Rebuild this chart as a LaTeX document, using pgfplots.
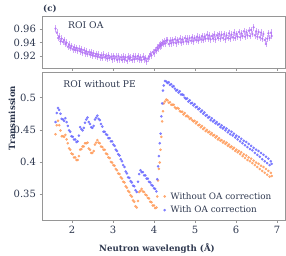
\documentclass[border=0pt]{standalone}
\usepackage{fontspec}
\setmainfont{DejaVu Serif}
\usepackage{pgfplots}
\pgfplotsset{compat=1.18}
\usepackage{pgfplotstable}
\definecolor{oacol}{RGB}{176,110,244}
\definecolor{wocol}{RGB}{255,155,90}
\definecolor{wicol}{RGB}{105,105,255}
\definecolor{txt}{RGB}{45,55,78}
\definecolor{framec}{RGB}{150,150,150}
\pgfplotstableread{
x oa wo wi
1.60 0.961 0.443 0.462
1.63 0.955 0.457 0.476
1.66 0.947 0.464 0.484
1.69 0.949 0.457 0.481
1.72 0.942 0.449 0.475
1.75 0.946 0.440 0.467
1.78 0.941 0.440 0.466
1.81 0.944 0.439 0.464
1.84 0.938 0.442 0.468
1.87 0.940 0.435 0.462
1.90 0.934 0.429 0.456
1.93 0.937 0.421 0.449
1.96 0.932 0.419 0.447
1.99 0.935 0.413 0.440
2.02 0.930 0.412 0.439
2.05 0.933 0.407 0.435
2.08 0.929 0.407 0.435
2.11 0.932 0.403 0.431
2.14 0.928 0.403 0.432
2.17 0.931 0.409 0.441
2.20 0.927 0.419 0.454
2.23 0.930 0.420 0.451
2.26 0.925 0.424 0.449
2.29 0.929 0.424 0.453
2.32 0.924 0.429 0.461
2.35 0.927 0.429 0.466
2.38 0.923 0.430 0.469
2.41 0.926 0.421 0.462
2.44 0.922 0.419 0.459
2.47 0.925 0.414 0.454
2.50 0.921 0.414 0.453
2.53 0.924 0.417 0.456
2.56 0.920 0.427 0.466
2.59 0.923 0.430 0.469
2.62 0.919 0.434 0.472
2.65 0.922 0.430 0.467
2.68 0.918 0.429 0.465
2.71 0.921 0.424 0.459
2.74 0.917 0.423 0.455
2.77 0.922 0.419 0.447
2.80 0.918 0.419 0.447
2.83 0.920 0.413 0.443
2.86 0.916 0.412 0.442
2.89 0.921 0.407 0.437
2.92 0.917 0.406 0.437
2.95 0.919 0.400 0.432
2.98 0.915 0.399 0.432
3.01 0.920 0.395 0.427
3.04 0.916 0.394 0.425
3.07 0.919 0.389 0.419
3.10 0.914 0.387 0.417
3.13 0.920 0.382 0.412
3.16 0.915 0.381 0.410
3.19 0.918 0.376 0.404
3.22 0.914 0.374 0.401
3.25 0.919 0.369 0.395
3.28 0.915 0.368 0.392
3.31 0.918 0.362 0.385
3.34 0.913 0.360 0.382
3.37 0.919 0.355 0.376
3.40 0.916 0.353 0.375
3.43 0.918 0.348 0.370
3.46 0.914 0.346 0.368
3.49 0.920 0.340 0.363
3.52 0.915 0.338 0.362
3.55 0.919 0.331 0.356
3.58 0.916 0.329 0.353
3.61 0.920 0.339 0.369
3.64 0.915 0.353 0.381
3.67 0.918 0.355 0.387
3.70 0.914 0.358 0.384
3.73 0.919 0.354 0.384
3.76 0.915 0.353 0.379
3.79 0.917 0.349 0.379
3.82 0.912 0.348 0.374
3.85 0.916 0.344 0.374
3.88 0.919 0.343 0.369
3.91 0.923 0.338 0.368
3.94 0.921 0.337 0.364
3.97 0.926 0.332 0.363
4.00 0.924 0.332 0.359
4.03 0.929 0.328 0.358
4.06 0.928 0.329 0.354
4.08 0.933 0.346 0.373
4.10 0.931 0.371 0.393
4.12 0.936 0.389 0.409
4.14 0.934 0.399 0.429
4.16 0.938 0.419 0.444
4.18 0.936 0.439 0.471
4.20 0.940 0.463 0.491
4.22 0.938 0.479 0.511
4.24 0.942 0.491 0.519
4.27 0.939 0.494 0.526
4.30 0.943 0.497 0.525
4.33 0.944 0.496 0.523
4.36 0.938 0.492 0.524
4.39 0.943 0.493 0.520
4.42 0.939 0.489 0.521
4.45 0.944 0.489 0.517
4.48 0.940 0.489 0.518
4.51 0.945 0.485 0.514
4.54 0.939 0.483 0.511
4.57 0.944 0.484 0.512
4.60 0.941 0.483 0.508
4.63 0.946 0.479 0.510
4.66 0.940 0.478 0.505
4.69 0.945 0.478 0.505
4.72 0.941 0.474 0.504
4.75 0.947 0.476 0.500
4.78 0.942 0.471 0.498
4.81 0.946 0.472 0.499
4.84 0.941 0.470 0.494
4.87 0.947 0.467 0.496
4.90 0.943 0.468 0.491
4.93 0.948 0.465 0.492
4.96 0.942 0.463 0.488
4.99 0.947 0.464 0.490
5.02 0.944 0.460 0.485
5.05 0.949 0.462 0.486
5.08 0.943 0.457 0.482
5.11 0.948 0.458 0.483
5.14 0.945 0.454 0.478
5.17 0.950 0.456 0.480
5.20 0.944 0.451 0.475
5.23 0.949 0.453 0.477
5.26 0.946 0.448 0.472
5.29 0.952 0.450 0.473
5.32 0.946 0.446 0.469
5.35 0.951 0.447 0.470
5.38 0.945 0.443 0.465
5.41 0.950 0.445 0.468
5.44 0.946 0.441 0.463
5.47 0.952 0.442 0.465
5.50 0.945 0.438 0.460
5.53 0.951 0.440 0.462
5.56 0.947 0.435 0.458
5.59 0.953 0.437 0.459
5.62 0.946 0.433 0.454
5.65 0.952 0.434 0.457
5.68 0.947 0.430 0.452
5.71 0.953 0.432 0.454
5.74 0.945 0.428 0.449
5.77 0.951 0.430 0.452
5.80 0.947 0.425 0.446
5.83 0.954 0.427 0.449
5.86 0.946 0.423 0.443
5.89 0.952 0.424 0.447
5.92 0.948 0.420 0.441
5.95 0.955 0.422 0.444
5.98 0.947 0.417 0.438
6.01 0.953 0.419 0.441
6.04 0.949 0.415 0.435
6.07 0.956 0.417 0.439
6.10 0.948 0.412 0.432
6.13 0.954 0.415 0.436
6.16 0.950 0.409 0.429
6.19 0.957 0.412 0.433
6.22 0.949 0.406 0.426
6.25 0.956 0.410 0.431
6.28 0.951 0.403 0.423
6.31 0.958 0.407 0.428
6.34 0.950 0.401 0.420
6.37 0.959 0.405 0.425
6.40 0.953 0.398 0.418
6.43 0.963 0.402 0.422
6.46 0.951 0.395 0.414
6.49 0.957 0.399 0.419
6.52 0.949 0.392 0.411
6.55 0.956 0.397 0.417
6.58 0.948 0.389 0.408
6.61 0.955 0.394 0.414
6.64 0.946 0.386 0.404
6.67 0.953 0.392 0.411
6.70 0.944 0.383 0.401
6.73 0.938 0.389 0.408
6.76 0.946 0.380 0.398
6.79 0.954 0.386 0.405
6.82 0.947 0.377 0.395
6.85 0.955 0.383 0.401
6.87 0.950 0.378 0.397
}\data
\begin{document}
\begin{tikzpicture}
\useasboundingbox (0,0) rectangle (286pt,255pt);
\pgfplotsset{base/.style={scale only axis, width=243pt, xmin=1.27, xmax=7.195,
  axis line style={framec, line width=0.6pt},
  tick style={framec, line width=0.5pt}, tick align=outside, major tick length=2.5pt,
  xtick pos=bottom, ytick pos=left, xtick={2,3,4,5,6,7},
  tick label style={font=\fontsize{10}{12}\selectfont, text=txt},
  /pgf/number format/assume math mode=true, clip=true}}
\begin{axis}[base, at={(42pt,187pt)}, anchor=south west, height=52pt,
  ymin=0.902, ymax=0.98, ytick={0.92,0.94,0.96}, xticklabels={}]
\addplot[only marks, mark=*, mark size=0.95pt, color=oacol, opacity=0.75,
  error bars/.cd, y dir=both, y fixed=0.005, error mark=none,
  error bar style={oacol, line width=0.4pt, opacity=0.6}]
  table[x=x, y=oa]{\data};
\node[anchor=west, font=\fontsize{9.2}{11}\selectfont, text=txt, inner sep=0pt] at (rel axis cs:0.107,0.83) {ROI OA};
\end{axis}
\begin{axis}[base, at={(42pt,35pt)}, anchor=south west, height=148pt,
  ymin=0.3095, ymax=0.540, ytick={0.35,0.4,0.45,0.5},
  legend image code/.code={\draw[mark repeat=1] plot coordinates {(0.1cm,0cm)};},
  legend style={at={(rel axis cs:0.487,0.215)}, anchor=north west, draw=none, fill=none,
    font=\fontsize{8.8}{11}\selectfont, text=txt, row sep=1.5pt,
    /tikz/every odd column/.append style={column sep=3pt}},
  legend cell align=left]
\addplot[only marks, mark=*, mark size=1.1pt, color=wocol, opacity=0.8]
  table[x=x, y=wo]{\data};
\addlegendentry{Without OA correction}
\addplot[only marks, mark=*, mark size=1.1pt, color=wicol, opacity=0.8]
  table[x=x, y=wi]{\data};
\addlegendentry{With OA correction}
\node[font=\fontsize{9.2}{11}\selectfont, text=txt] at (rel axis cs:0.237,0.917) {ROI without PE};
\end{axis}
\node[anchor=west, font=\bfseries\fontsize{8.6}{10}\selectfont, text=txt, inner sep=0pt] at (43pt,246pt) {(c)};
\node[rotate=90, font=\bfseries\fontsize{8.6}{10}\selectfont, text=txt] at (12pt,137pt) {Transmission};
\node[font=\bfseries\fontsize{8.6}{10}\selectfont, text=txt] at (157pt,6.5pt) {Neutron wavelength (Å)};
\end{tikzpicture}
\end{document}
